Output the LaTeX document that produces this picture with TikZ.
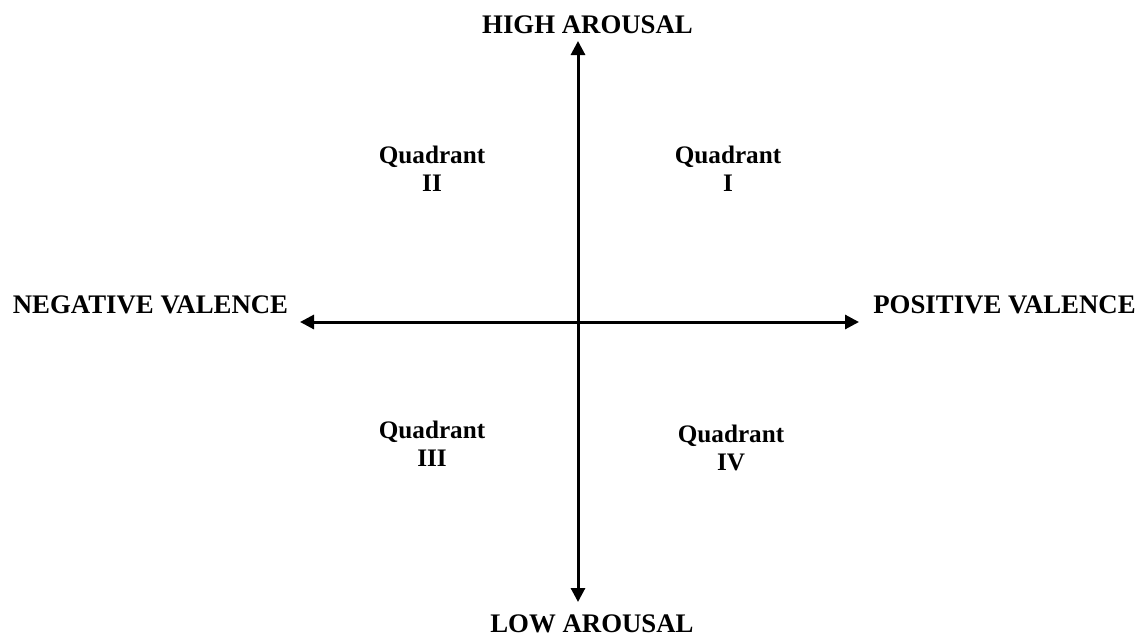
\documentclass[tikz,border=0pt]{standalone}
\usepackage{fontspec}
\setmainfont{Liberation Serif}
\usepackage{tikz}
\usetikzlibrary{arrows.meta, positioning}

\begin{document}
\begin{tikzpicture}[
    x=1pt, y=-1pt,
    pole/.style={font=\fontsize{26.8}{30}\selectfont\bfseries, inner sep=0pt},
    quad/.style={font=\fontsize{25.2}{28}\selectfont\bfseries, align=center, inner sep=0pt},
    axis/.style={{Triangle[length=14pt, width=14pt]}-{Triangle[length=14pt, width=14pt]}, line width=3pt},
]
\useasboundingbox (0,0) rectangle (1143,637);

\coordinate (o) at (578, 322);
\coordinate (top) at (578, 41);
\coordinate (bottom) at (578, 602);
\coordinate (left) at (300, 322);
\coordinate (right) at (859, 322);

\node[pole] (high) at (587.5, 25) {HIGH AROUSAL};
\node[pole] (low) at (592, 624) {LOW AROUSAL};
\node[pole] (neg) at (150.5, 305) {NEGATIVE VALENCE};
\node[pole] (pos) at (1004.5, 305) {POSITIVE VALENCE};

\node[quad] (q2) at (432, 169) {Quadrant\\II};
\node[quad] (q1) at (728, 169) {Quadrant\\I};
\node[quad] (q3) at (432, 444) {Quadrant\\III};
\node[quad] (q4) at (731, 448) {Quadrant\\IV};

\draw[axis] (left) -- (right);
\draw[axis] (top) -- (bottom);

\end{tikzpicture}
\end{document}
